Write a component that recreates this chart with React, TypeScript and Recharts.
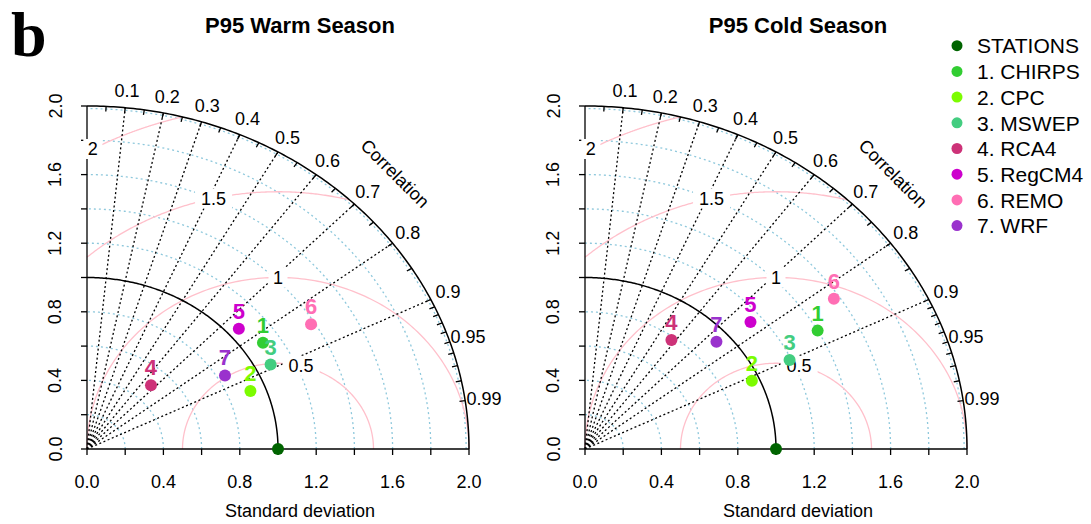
import React from 'react';
import { ComposedChart, Line, Scatter, XAxis, YAxis } from 'recharts';

// models shown in both Taylor diagrams
const modelIds = ['1', '2', '3', '4', '5', '6', '7'];
const modelNames = ['1. CHIRPS', '2. CPC', '3. MSWEP', '4. RCA4', '5. RegCM4', '6. REMO', '7. WRF'];
const modelColors = ['#32cd32', '#7cfc00', '#43cd80', '#cd3278', '#cd00cd', '#ff6eb4', '#9a32cd'];
const stationName = 'STATIONS';
const stationColor = '#006400';
const refSd = 1.0;

// normalised standard deviation and correlation
const warmSd = [1.11, 0.92, 1.08, 0.5, 1.06, 1.38, 0.84];
const warmCorr = [0.83, 0.93, 0.89, 0.67, 0.75, 0.85, 0.86];
const coldSd = [1.4, 0.96, 1.19, 0.78, 1.14, 1.57, 0.93];
const coldCorr = [0.87, 0.91, 0.9, 0.58, 0.76, 0.83, 0.74];

// axes / grid
const sdTicks = [0, 0.2, 0.4, 0.6, 0.8, 1.0, 1.2, 1.4, 1.6, 1.8, 2.0];
const sdArcs = [0.2, 0.4, 0.6, 0.8, 1.2, 1.4, 1.6, 1.8, 1.985];
const corrRays = [0.1, 0.2, 0.3, 0.4, 0.5, 0.6, 0.7, 0.8, 0.9];
const corrLabels = [0.1, 0.2, 0.3, 0.4, 0.5, 0.6, 0.7, 0.8, 0.9, 0.95, 0.99];
const corrTicks = [
  0.05, 0.1, 0.15, 0.2, 0.25, 0.3, 0.35, 0.4, 0.45, 0.5, 0.55, 0.6, 0.65, 0.7, 0.75, 0.8, 0.85, 0.9,
  0.91, 0.92, 0.93, 0.94, 0.95, 0.96, 0.97, 0.98, 0.99,
];
const rmsLevels = [0.5, 1, 1.5, 2];
const rmsLabelAngles = [76, 90, 103, 119];

const MAX = 2;
const FONT = '"Liberation Sans", Arial, sans-serif';
const deg = Math.PI / 180;

type Pt = { x: number; y: number | null };

const clamp = (v: number) => Math.min(MAX, Math.max(0, v));

const arc = (cx: number, r: number, t0: number, t1: number): Pt[] => {
  const pts: Pt[] = [];
  const n = 180;
  for (let i = 0; i <= n; i++) {
    const t = t0 + ((t1 - t0) * i) / n;
    pts.push({ x: clamp(cx + r * Math.cos(t)), y: clamp(r * Math.sin(t)) });
  }
  return pts;
};

const onRadius = (r: number, c: number): Pt => {
  const t = Math.acos(c);
  return { x: clamp(r * Math.cos(t)), y: clamp(r * Math.sin(t)) };
};

const joinSegments = (segs: Pt[][]): Pt[] =>
  segs.flatMap((s, i) => (i === 0 ? s : [{ x: s[0].x, y: null }, ...s]));

// grid geometry
const sdGrid = joinSegments(sdArcs.map((r) => arc(0, r, 0, 90 * deg)));
const rmsGrid = joinSegments(
  rmsLevels.map((g) => {
    const tMin = Math.acos(Math.min(1, (MAX * MAX - 1 - g * g) / (2 * g)));
    const tMax = Math.acos(Math.max(-1, -1 / g));
    return arc(1, g, tMin, tMax);
  })
);
const outline = joinSegments([arc(0, refSd, 0, 90 * deg), arc(0, MAX, 0, 90 * deg)]);
const rays = joinSegments(corrRays.map((c) => [{ x: 0, y: 0 }, onRadius(MAX, c)]));
const ticks = joinSegments(corrTicks.map((c) => [onRadius(1.97, c), onRadius(MAX, c)]));

const corrLabelData = corrLabels.map((c) => ({ ...onRadius(MAX, c), label: String(c), t: Math.acos(c) }));
const corrTitleData = [{ ...onRadius(MAX, Math.cos(45 * deg)), label: 'Correlation' }];
const rmsLabelData = rmsLevels.map((g, i) => ({
  x: clamp(1 + g * Math.cos(rmsLabelAngles[i] * deg)),
  y: clamp(g * Math.sin(rmsLabelAngles[i] * deg)),
  label: String(g),
}));

const isLabelled = (v: number) => Math.abs(v / 0.4 - Math.round(v / 0.4)) < 1e-6;

const XTick = (p: any) => {
  const v = p.payload.value;
  if (!isLabelled(v)) return <g />;
  return (
    <text x={p.x} y={p.y + 31} textAnchor="middle" fontSize={18} fontFamily={FONT} fill="#000">
      {v.toFixed(1)}
    </text>
  );
};

const YTick = (p: any) => {
  const v = p.payload.value;
  if (!isLabelled(v)) return <g />;
  const x = p.x - 17.5;
  return (
    <text x={x} y={p.y} textAnchor="middle" fontSize={18} fontFamily={FONT} fill="#000" transform={`rotate(-90, ${x}, ${p.y})`}>
      {v.toFixed(1)}
    </text>
  );
};

const CorrLabel = (p: any) => {
  const t = p.payload.t;
  return (
    <text
      x={p.cx + 19 * Math.cos(t)}
      y={p.cy - 17 * Math.sin(t)}
      dy="0.35em"
      textAnchor="middle"
      fontSize={18}
      fontFamily={FONT}
      fill="#000"
    >
      {p.payload.label}
    </text>
  );
};

const CorrTitle = (p: any) => {
  const x = p.cx + 38;
  const y = p.cy - 33;
  return (
    <text x={x} y={y} dy="0.35em" textAnchor="middle" fontSize={18} fontFamily={FONT} fill="#000" transform={`rotate(45, ${x}, ${y})`}>
      {p.payload.label}
    </text>
  );
};

const RmsLabel = (p: any) => {
  const label = p.payload.label;
  const w = label.length * 9 + 10;
  return (
    <g>
      <rect x={p.cx - w / 2} y={p.cy - 10} width={w} height={20} fill="#fff" />
      <text x={p.cx} y={p.cy} dy="0.35em" textAnchor="middle" fontSize={18} fontFamily={FONT} fill="#000">
        {label}
      </text>
    </g>
  );
};

const ModelPoint = (p: any) => (
  <g>
    <circle cx={p.cx} cy={p.cy} r={6} fill={p.payload.color} />
    {p.payload.id && (
      <text x={p.cx} y={p.cy - 10} textAnchor="middle" fontSize={22} fontWeight="bold" fontFamily={FONT} fill={p.payload.color}>
        {p.payload.id}
      </text>
    )}
  </g>
);

interface TaylorProps {
  sd: number[];
  corr: number[];
  left: number;
}

const TaylorPanel = ({ sd, corr, left }: TaylorProps) => {
  const points = modelIds.map((id, i) => ({
    x: sd[i] * corr[i],
    y: sd[i] * Math.sqrt(1 - corr[i] * corr[i]),
    id,
    color: modelColors[i],
  }));
  const station = [{ x: refSd, y: 0, id: '', color: stationColor }];

  return (
    <div style={{ position: 'absolute', left, top: 0 }}>
      <ComposedChart width={520} height={524} margin={{ top: 106, right: 51, bottom: 5, left: 37 }}>
        <XAxis
          type="number"
          dataKey="x"
          domain={[0, MAX]}
          ticks={sdTicks}
          interval={0}
          tick={<XTick />}
          tickSize={6}
          height={70}
          axisLine={{ stroke: '#000', strokeWidth: 1.3 }}
          tickLine={{ stroke: '#000', strokeWidth: 1.3 }}
        />
        <YAxis
          type="number"
          dataKey="y"
          domain={[0, MAX]}
          ticks={sdTicks}
          interval={0}
          tick={<YTick />}
          tickSize={6}
          width={50}
          axisLine={{ stroke: '#000', strokeWidth: 1.3 }}
          tickLine={{ stroke: '#000', strokeWidth: 1.3 }}
        />
        <Line data={sdGrid} dataKey="y" type="linear" stroke="#8ec8dc" strokeWidth={1.3} strokeDasharray="2 3" dot={false} activeDot={false} isAnimationActive={false} />
        <Line data={rmsGrid} dataKey="y" type="linear" stroke="#ffc0cb" strokeWidth={1.3} dot={false} activeDot={false} isAnimationActive={false} />
        <Line data={rays} dataKey="y" type="linear" stroke="#000" strokeWidth={1.3} strokeDasharray="2 2.5" dot={false} activeDot={false} isAnimationActive={false} />
        <Line data={outline} dataKey="y" type="linear" stroke="#000" strokeWidth={1.5} dot={false} activeDot={false} isAnimationActive={false} />
        <Line data={ticks} dataKey="y" type="linear" stroke="#000" strokeWidth={1.3} dot={false} activeDot={false} isAnimationActive={false} />
        <Scatter data={rmsLabelData} shape={<RmsLabel />} isAnimationActive={false} />
        <Scatter data={corrLabelData} shape={<CorrLabel />} isAnimationActive={false} />
        <Scatter data={corrTitleData} shape={<CorrTitle />} isAnimationActive={false} />
        <Scatter data={station} shape={<ModelPoint />} isAnimationActive={false} />
        <Scatter data={points} shape={<ModelPoint />} isAnimationActive={false} />
      </ComposedChart>
    </div>
  );
};

const legendNames = [stationName, ...modelNames];
const legendColors = [stationColor, ...modelColors];

export default function App() {
  return (
    <div style={{ position: 'absolute', left: 0, top: 0, width: 1091, height: 524, background: '#fff' }}>
      <TaylorPanel sd={warmSd} corr={warmCorr} left={0} />
      <TaylorPanel sd={coldSd} corr={coldCorr} left={498} />
      <svg width={1091} height={524} style={{ position: 'absolute', left: 0, top: 0, pointerEvents: 'none' }}>
        <text x={11} y={56} fontFamily='"Liberation Serif", serif' fontWeight="bold" fontSize={64} fill="#000">
          b
        </text>
        <text x={300} y={33} textAnchor="middle" fontFamily={FONT} fontWeight="bold" fontSize={22} fill="#000">
          P95 Warm Season
        </text>
        <text x={798} y={33} textAnchor="middle" fontFamily={FONT} fontWeight="bold" fontSize={22} fill="#000">
          P95 Cold Season
        </text>
        <text x={300} y={517} textAnchor="middle" fontFamily={FONT} fontSize={18} fill="#000">
          Standard deviation
        </text>
        <text x={798} y={517} textAnchor="middle" fontFamily={FONT} fontSize={18} fill="#000">
          Standard deviation
        </text>
        {legendNames.map((name, i) => (
          <g key={name}>
            <circle cx={957} cy={45.7 + 25.7 * i} r={5.5} fill={legendColors[i]} />
            <text x={977} y={45.7 + 25.7 * i + 7.7} fontFamily={FONT} fontSize={21} fill="#000">
              {name}
            </text>
          </g>
        ))}
      </svg>
    </div>
  );
}
